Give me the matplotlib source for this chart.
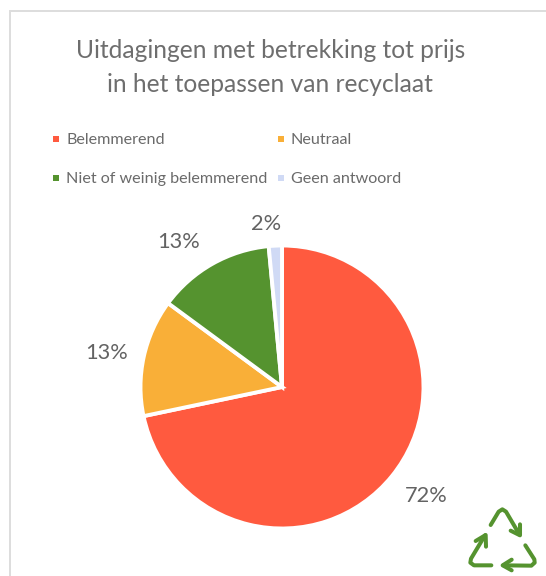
import matplotlib
matplotlib.use("Agg")
import matplotlib.pyplot as plt
from matplotlib.lines import Line2D

W, H = 546, 576

categories = ["Belemmerend", "Neutraal", "Niet of weinig belemmerend", "Geen antwoord"]
values = [71.7, 13.4, 13.4, 1.5]
value_labels = ["72%", "13%", "13%", "2%"]
colors = ["#FF5A3F", "#F9AF38", "#55932F", "#D0DAF5"]

TITLE = "#6E6E6E"
GREEN = "#55932F"

plt.rcParams["font.family"] = ["Lato", "DejaVu Sans"]

fig = plt.figure(figsize=(W / 100, H / 100), dpi=100)

# overlay in pixel coordinates, y pointing down
ov = fig.add_axes([0, 0, 1, 1])
ov.set_xlim(0, W)
ov.set_ylim(H, 0)
ov.axis("off")

# chart frame, cut off by the right and bottom edges
ov.plot([9.5, 9.5, W], [H, 10.5, 10.5], color="#DDDDDD", lw=1.4, solid_joinstyle="miter")

# title
ov.text(270.5, 57.5, "Uitdagingen met betrekking tot prijs", fontsize=17.7, color=TITLE,
        ha="center", va="baseline")
ov.text(270, 91.7, "in het toepassen van recyclaat", fontsize=17.7, color=TITLE,
        ha="center", va="baseline")

# legend
legend_pos = [(56, 138.5), (281, 138.5), (56, 177.5), (281, 177.5)]
for (x, y), name, c in zip(legend_pos, categories, colors):
    ov.plot([x], [y], marker="s", ms=4.6, color=c, mew=0)
    ov.text(x + 10, y + 5.5, name, fontsize=11.6, color="#6A6A6A", ha="left", va="baseline")

# pie
cx, cy, r = 282, 387, 141.5
pie_ax = fig.add_axes([(cx - r) / W, 1 - (cy + r) / H, 2 * r / W, 2 * r / H])
pie_ax.pie(
    values,
    colors=colors,
    startangle=90,
    counterclock=False,
    radius=1.0,
    wedgeprops={"edgecolor": "white", "linewidth": 2.8},
)
pie_ax.set_xlim(-1, 1)
pie_ax.set_ylim(-1, 1)

# value labels
label_pos = [(426, 496), (107, 353), (179, 242), (266, 224)]
for (x, y), lab in zip(label_pos, value_labels):
    ov.text(x, y, lab, fontsize=15.7, color="#636363", ha="center", va="center", zorder=5)


# recycling icon, traced in pixels
def icon_line(points):
    ov.add_line(Line2D([440 + p[0] / 3 for p in points], [480 + p[1] / 3 for p in points],
                       color=GREEN, lw=2.9, solid_capstyle="round", solid_joinstyle="round", zorder=5))


icon_line([(152, 135), (176, 95), (187, 88), (198, 95), (238, 163)])
icon_line([(240, 133), (240, 166), (212, 152)])
icon_line([(256, 196), (283, 238), (284, 248), (274, 257), (190, 256)])
icon_line([(215, 239), (188, 256), (215, 271)])
icon_line([(154, 256), (102, 256), (91, 248), (93, 236), (135, 166)])
icon_line([(107, 183), (137, 165), (138, 200)])

fig.savefig("out.png", dpi=100)
